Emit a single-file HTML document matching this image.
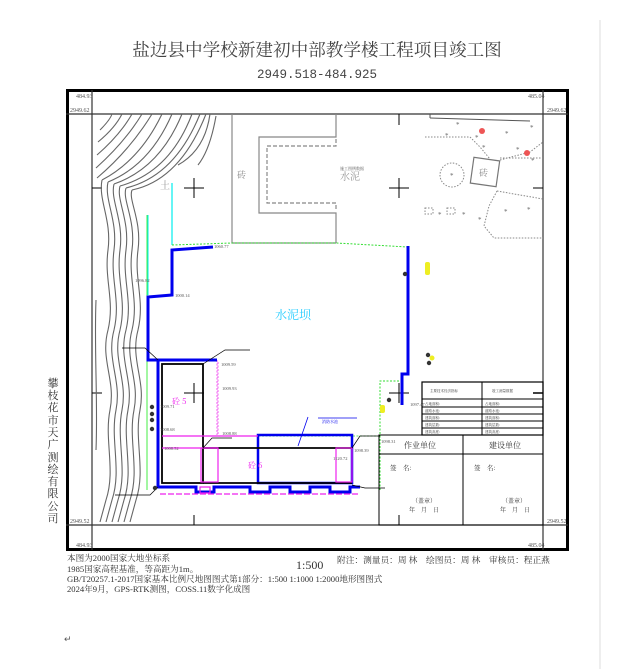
<!DOCTYPE html>
<html><head><meta charset="utf-8"><style>
html,body{margin:0;padding:0;background:#fff;}
body{width:633px;height:669px;overflow:hidden;position:relative;font-family:"Liberation Serif","Noto Serif CJK SC",serif;}
svg{position:absolute;left:0;top:0;}
</style></head><body>
<svg width="633" height="669" viewBox="0 0 633 669" xmlns="http://www.w3.org/2000/svg">
<line x1="600" y1="20" x2="600" y2="669" stroke="#ddd" stroke-width="1"/>
<text x="317" y="56" font-size="17.6" text-anchor="middle" fill="#444" font-family="Noto Serif CJK SC, serif">盐边县中学校新建初中部教学楼工程项目竣工图</text>
<text x="317" y="78" font-size="12.5" text-anchor="middle" fill="#444" font-family="Liberation Mono, monospace">2949.518-484.925</text>

<!-- frames -->
<rect x="67.5" y="90.5" width="500" height="459" fill="none" stroke="#000" stroke-width="3"/>
<line x1="66" y1="114" x2="568" y2="114" stroke="#333" stroke-width="1.2"/>
<line x1="66" y1="525" x2="568" y2="525" stroke="#333" stroke-width="1.2"/>
<line x1="92" y1="90" x2="92" y2="550" stroke="#333" stroke-width="1.2"/>
<line x1="543" y1="90" x2="543" y2="550" stroke="#333" stroke-width="1.2"/>
<g font-size="6" fill="#555" font-family="Liberation Serif, serif">
<text x="76" y="98">484.93</text><text x="528" y="98">485.04</text>
<text x="70" y="112">2949.62</text><text x="547" y="112">2949.62</text>
<text x="70" y="523">2949.52</text><text x="547" y="523">2949.52</text>
<text x="76" y="547">484.93</text><text x="528" y="547">485.04</text>
</g>
<g stroke="#000" stroke-width="1">
<line x1="92" y1="188" x2="102" y2="188"/><line x1="92" y1="393" x2="102" y2="393"/>
<line x1="533" y1="188" x2="543" y2="188"/><line x1="533" y1="393" x2="543" y2="393"/>
<line x1="399" y1="114" x2="399" y2="125"/>
<line x1="194" y1="515" x2="194" y2="525"/><line x1="399" y1="515" x2="399" y2="525"/>
</g>
<g stroke="#000" stroke-width="1">
<path d="M184 188h20M194 178v20"/><path d="M389 188h20M399 178v20"/>
<path d="M184 393h20M194 383v20"/><path d="M389 393h20M399 383v20"/>
</g>
<!-- contours -->
<g fill="none" stroke="#666" stroke-width="1.1">
<path d="M100 130 Q110 120 112 114"/><path d="M98 142 Q115 128 122 114"/>
<path d="M97 155 Q120 135 132 114"/><path d="M96 168 Q125 142 142 114"/>
<path d="M97 178 Q130 150 152 114"/>
<path d="M102 180 Q140 160 162 114 M102 180 C98 200 112 220 108 250 C104 280 115 300 108 330 C100 360 116 380 110 410 C104 440 116 470 106 500 L100 522"/>
<path d="M108 182 Q150 165 172 114 M108 182 C104 200 118 220 114 250 C110 280 121 300 114 330 C106 360 122 380 116 410 C110 440 122 470 112 500 L106 522"/>
<path d="M114 184 Q160 168 182 114 M114 184 C110 200 124 220 120 250 C116 280 127 300 120 330 C112 360 128 380 122 410 C116 440 128 470 118 500 L112 522"/>
<path d="M120 186 Q170 172 192 114 M120 186 C116 200 130 220 126 250 C122 280 133 300 126 330 C118 360 134 380 128 410 C122 440 134 470 124 500 L118 522"/>
<path d="M126 188 Q175 176 200 114 M126 188 C122 200 136 220 132 250 C128 280 139 300 132 330 C124 360 140 380 134 410 C128 440 140 470 130 500 L124 522"/>
<path d="M132 190 Q180 180 206 114 M132 190 C128 200 142 220 138 250 C134 280 145 300 138 330 C130 360 146 380 140 410 C134 440 146 470 136 500 L130 522"/>
<path d="M210 114 Q205 150 178 165"/><path d="M216 116 Q210 150 198 165"/>
<path d="M96 300 C94 350 98 400 96 450"/>
</g>
<text x="160" y="189" font-size="10" fill="#999" font-family="Noto Serif CJK SC, serif">土</text>
<g fill="none" stroke="#888" stroke-width="1.2">
<path d="M232 114V243H336"/>
<path d="M336 114V137H259V213H336V243"/>
<path d="M336 139V146H267V203H336V210" stroke-dasharray="4,2"/>
</g>
<text x="237" y="178" font-size="9" fill="#888" font-family="Noto Serif CJK SC, serif">砖</text>
<text x="340" y="180" font-size="10" fill="#999" font-family="Noto Serif CJK SC, serif">水泥</text>
<text x="340" y="170" font-size="4" fill="#555">施工图例数据</text>
<g fill="none" stroke="#888" stroke-width="1" stroke-dasharray="1.5,1.5">
<circle cx="452" cy="175" r="12"/>
<path d="M425 137h45l10 10 10 12"/>
<path d="M500 160l30-8 13-10M500 158h43"/>
<path d="M497 191l-8 15-5 20 10 12h49M497 191l46 8"/>
<rect x="425" y="208" width="8" height="6"/><rect x="447" y="208" width="8" height="6"/>
</g>
<line x1="430" y1="114" x2="430" y2="118" stroke="#555"/>
<path d="M430 118 L530 121" stroke="#555" fill="none"/>
<rect x="472" y="159" width="26" height="26" fill="none" stroke="#777" stroke-width="1.2" transform="rotate(8 485 172)"/>
<text x="479" y="176" font-size="9" fill="#888" font-family="Noto Serif CJK SC, serif">砖</text>
<g fill="#666" font-size="7">
<text x="456" y="127">*</text><text x="445" y="138">*</text><text x="475" y="140">*</text>
<text x="505" y="136">*</text><text x="530" y="130">*</text><text x="482" y="150">*</text>
<text x="516" y="152">*</text><text x="450" y="178">*</text><text x="531" y="163">*</text>
<text x="438" y="217">*</text><text x="462" y="217">*</text><text x="478" y="222">*</text>
<text x="504" y="214">*</text><text x="527" y="212">*</text>
</g>
<g fill="#e55"><circle cx="482" cy="131" r="3"/><circle cx="527" cy="153" r="3"/></g>
<line x1="147" y1="215" x2="147" y2="490" stroke="#4e4" stroke-width="1"/>
<line x1="148" y1="215" x2="148" y2="295" stroke="#0ee" stroke-width="1"/>
<line x1="172" y1="183" x2="172" y2="245" stroke="#0ee" stroke-width="1.2"/>
<path d="M172 245 L232 243 L336 243 L408 247" stroke="#3d3" stroke-width="1" stroke-dasharray="2,1.5" fill="none"/>
<path d="M380 490V381H402" stroke="#3d3" stroke-width="1" stroke-dasharray="2,1.5" fill="none"/>
<path d="M217 360V435M218 362v73" stroke="#e3e" stroke-width="0.8" stroke-dasharray="2,1.5" fill="none"/>
<line x1="220" y1="436" x2="380" y2="436" stroke="#3d3" stroke-width="0.8" stroke-dasharray="2,1.5"/>
<path d="M213 247 L172 250 V295 L148 297 V360 H217" fill="none" stroke="#00e" stroke-width="3"/>
<path d="M408 246 V374 H402 V405" fill="none" stroke="#00e" stroke-width="3"/>
<path d="M158 361 V487 H196 V492 H214 V487 H250 V492 H270 V487 H290 V492 H310 V487 H330 V492 H350 V487 H360" fill="none" stroke="#00e" stroke-width="3"/>
<rect x="258" y="435" width="94" height="48" fill="none" stroke="#00e" stroke-width="2.5"/>
<rect x="162" y="364" width="41" height="119" fill="none" stroke="#000" stroke-width="1.8"/>
<path d="M203 448 H352 M203 483 H352" stroke="#000" stroke-width="1.8"/>
<g fill="none" stroke="#e2e" stroke-width="1.2">
<path d="M162 436 H258"/><path d="M162 448 H218"/>
<rect x="201" y="448" width="17" height="34"/><rect x="336" y="448" width="16" height="34"/>
<path d="M160 494 H360" stroke-dasharray="6,2"/>
<path d="M200 487h10v6h-10z"/>
</g>
<text x="172" y="404" font-size="8" fill="#e2e" font-family="Noto Serif CJK SC, serif">砼 5</text>
<text x="248" y="468" font-size="8" fill="#e2e" font-family="Noto Serif CJK SC, serif">砼 6</text>
<text x="275" y="319" font-size="12" fill="#2cf" font-family="Noto Serif CJK SC, serif">水泥坝</text>
<path d="M308 417 L298 446" stroke="#00e" stroke-width="0.8"/><path d="M318 418 H357" stroke="#00e" stroke-width="0.8"/>
<text x="322" y="423" font-size="4" fill="#00e">消防水池</text>
<g stroke="#000" stroke-width="0.7" fill="none">
<path d="M122 348 H145 L158 360"/><path d="M203 364 L225 350 H250"/>
<path d="M203 448 L212 438 H232"/><path d="M352 448 L360 436 H380"/>
<path d="M115 495 H150 L158 487"/><path d="M352 485 L365 488 H385"/>
</g>
<g font-size="4.5" fill="#555">
<text x="214" y="248">1060.77</text><text x="175" y="297">1000.14</text><text x="221" y="366">1009.59</text>
<text x="222" y="390">1009.93</text><text x="160" y="408">1009.71</text><text x="160" y="431">1008.68</text>
<text x="222" y="435">1008.88</text><text x="164" y="450">1008.52</text><text x="354" y="452">1098.39</text>
<text x="333" y="460">1120.72</text><text x="381" y="443">1098.31</text><text x="410" y="406">1097.47</text>
<text x="135" y="282">1096.82</text>
</g>
<g fill="#333">
<circle cx="152" cy="407" r="2.2"/><circle cx="152" cy="414" r="2.2"/><circle cx="152" cy="420" r="2.2"/><circle cx="152" cy="429" r="2.2"/>
<circle cx="405" cy="274" r="2.2"/><circle cx="428" cy="355" r="2.2"/><circle cx="429" cy="363" r="2.2"/>
<circle cx="389" cy="400" r="2.2"/><circle cx="155" cy="488" r="2.2"/>
</g>
<g fill="#ee2"><rect x="425" y="262" width="5" height="13" rx="2"/><circle cx="432" cy="358" r="2.5"/><rect x="380" y="405" width="5" height="8" rx="2"/></g>
<g stroke="#000" fill="none">
<rect x="422" y="382" width="121" height="53" stroke-width="1.2"/>
<line x1="482" y1="382" x2="482" y2="435"/>
<line x1="422" y1="399" x2="543" y2="399" stroke-width="1"/>
<line x1="422" y1="407" x2="543" y2="407"/><line x1="422" y1="414" x2="543" y2="414"/>
<line x1="422" y1="421" x2="543" y2="421"/><line x1="422" y1="428" x2="543" y2="428"/>
<line x1="533" y1="393" x2="543" y2="393" stroke-width="1.5"/>
</g>
<g font-size="3.5" fill="#333">
<text x="430" y="392">主要技术经济指标</text><text x="492" y="392">竣工测量数据</text>
<text x="425" y="405">占地面积:</text><text x="425" y="412">道路水池:</text><text x="425" y="419">建筑面积:</text><text x="425" y="426">建筑层数:</text><text x="425" y="433">建筑高度:</text>
<text x="485" y="405">占地面积:</text><text x="485" y="412">道路水池:</text><text x="485" y="419">建筑面积:</text><text x="485" y="426">建筑层数:</text><text x="485" y="433">建筑高度:</text>
</g>
<g stroke="#000" fill="none" stroke-width="1">
<rect x="379" y="435" width="164" height="90"/>
<line x1="463" y1="435" x2="463" y2="525"/>
<line x1="379" y1="454" x2="543" y2="454"/>
</g>
<g font-size="8" fill="#333" font-family="Noto Serif CJK SC, serif">
<text x="404" y="448">作业单位</text><text x="489" y="448">建设单位</text>
<text x="390" y="470" font-size="6.5">签　名:</text><text x="474" y="470" font-size="6.5">签　名:</text>
<text x="412" y="503" font-size="6">（盖章）</text><text x="502" y="503" font-size="6">（盖章）</text>
<text x="409" y="512" font-size="6">年　月　日</text><text x="500" y="512" font-size="6">年　月　日</text>
</g>
<g font-size="11" fill="#333" font-family="Noto Serif CJK SC, serif" text-anchor="middle">
<text x="53" y="387">攀</text><text x="53" y="399">枝</text><text x="53" y="411">花</text><text x="53" y="424">市</text>
<text x="53" y="436">天</text><text x="53" y="448">广</text><text x="53" y="461">测</text><text x="53" y="473">绘</text>
<text x="53" y="485">有</text><text x="53" y="497">限</text><text x="53" y="510">公</text><text x="53" y="522">司</text>
</g>
<g font-size="8.6" fill="#333" font-family="Liberation Serif, Noto Serif CJK SC, serif">
<text x="67" y="561">本图为2000国家大地坐标系</text>
<text x="67" y="572">1985国家高程基准，等高距为1m。</text>
<text x="67" y="582" font-size="8.6">GB/T20257.1-2017国家基本比例尺地图图式第1部分：1:500 1:1000 1:2000地形图图式</text>
<text x="67" y="592" font-size="8.6">2024年9月，GPS-RTK测图，COSS.11数字化成图</text>
<text x="337" y="563" font-size="8.7">附注：测量员：周 林　绘图员：周 林　审核员：程正燕</text>
</g>
<text x="296" y="569" font-size="12" fill="#333" font-family="Liberation Serif, serif">1:500</text>
<text x="64" y="642" font-size="9" fill="#555">↵</text>
</svg>
</body></html>
